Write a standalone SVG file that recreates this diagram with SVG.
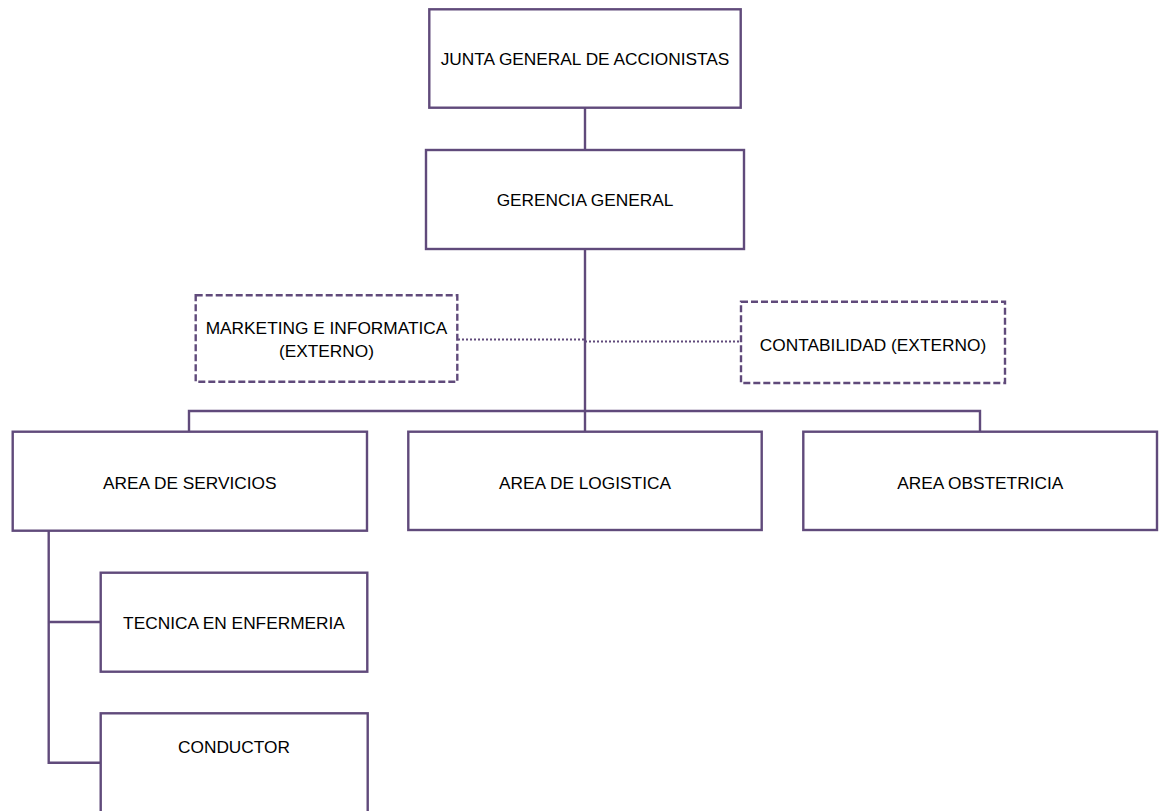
<svg xmlns="http://www.w3.org/2000/svg" width="1160" height="811" viewBox="0 0 1160 811">
<style>
.box{fill:#fff;stroke:#604a7b;stroke-width:2.4}
.dash{fill:#fff;stroke:#604a7b;stroke-width:2.4;stroke-dasharray:7,3}
.ln{fill:none;stroke:#604a7b;stroke-width:2.4}
.dot{fill:none;stroke:#604a7b;stroke-width:2.2;stroke-dasharray:2,2}
text{font-family:"Liberation Sans",Arial,sans-serif;font-size:17.3px;fill:#000;text-anchor:middle}
</style>
<rect width="1160" height="811" fill="#fff"/>
<g id="connectors">
<line class="ln" x1="585" y1="108" x2="585" y2="150"/>
<line class="ln" x1="585" y1="249" x2="585" y2="432"/>
<polyline class="ln" points="189,432 189,411 980,411 980,432"/>
<line class="dot" x1="458" y1="339.5" x2="585" y2="339.5"/>
<line class="dot" x1="585" y1="341.5" x2="741" y2="341.5"/>
<polyline class="ln" points="48.7,531 48.7,762.7 100.7,762.7"/>
<line class="ln" x1="48.7" y1="622" x2="100.7" y2="622"/>
</g>
<g id="junta">
<rect class="box" x="429.3" y="9.3" width="311.4" height="98.4"/>
<text x="585" y="65">JUNTA GENERAL DE ACCIONISTAS</text>
</g>
<g id="gerencia">
<rect class="box" x="426" y="150" width="318" height="99"/>
<text x="585" y="206">GERENCIA GENERAL</text>
</g>
<g id="marketing">
<rect class="dash" x="195.7" y="295.3" width="261.6" height="86.4"/>
<text x="326.5" y="334">MARKETING E INFORMATICA</text>
<text x="326.5" y="357.3">(EXTERNO)</text>
</g>
<g id="contabilidad">
<rect class="dash" x="741" y="301.7" width="264" height="81.3"/>
<text x="873" y="350.5">CONTABILIDAD (EXTERNO)</text>
</g>
<g id="servicios">
<rect class="box" x="12.7" y="431.7" width="354.3" height="99"/>
<text x="189.8" y="488.5">AREA DE SERVICIOS</text>
</g>
<g id="logistica">
<rect class="box" x="408.3" y="431.7" width="353.4" height="98.3"/>
<text x="585" y="488.5">AREA DE LOGISTICA</text>
</g>
<g id="obstetricia">
<rect class="box" x="803.3" y="431.7" width="353.7" height="98.3"/>
<text x="980.2" y="488.5">AREA OBSTETRICIA</text>
</g>
<g id="tecnica">
<rect class="box" x="100.7" y="572.7" width="266.6" height="99"/>
<text x="234" y="628.5">TECNICA EN ENFERMERIA</text>
</g>
<g id="conductor">
<rect class="box" x="100.7" y="713.3" width="267" height="120"/>
<text x="234" y="753.3">CONDUCTOR</text>
</g>
</svg>
